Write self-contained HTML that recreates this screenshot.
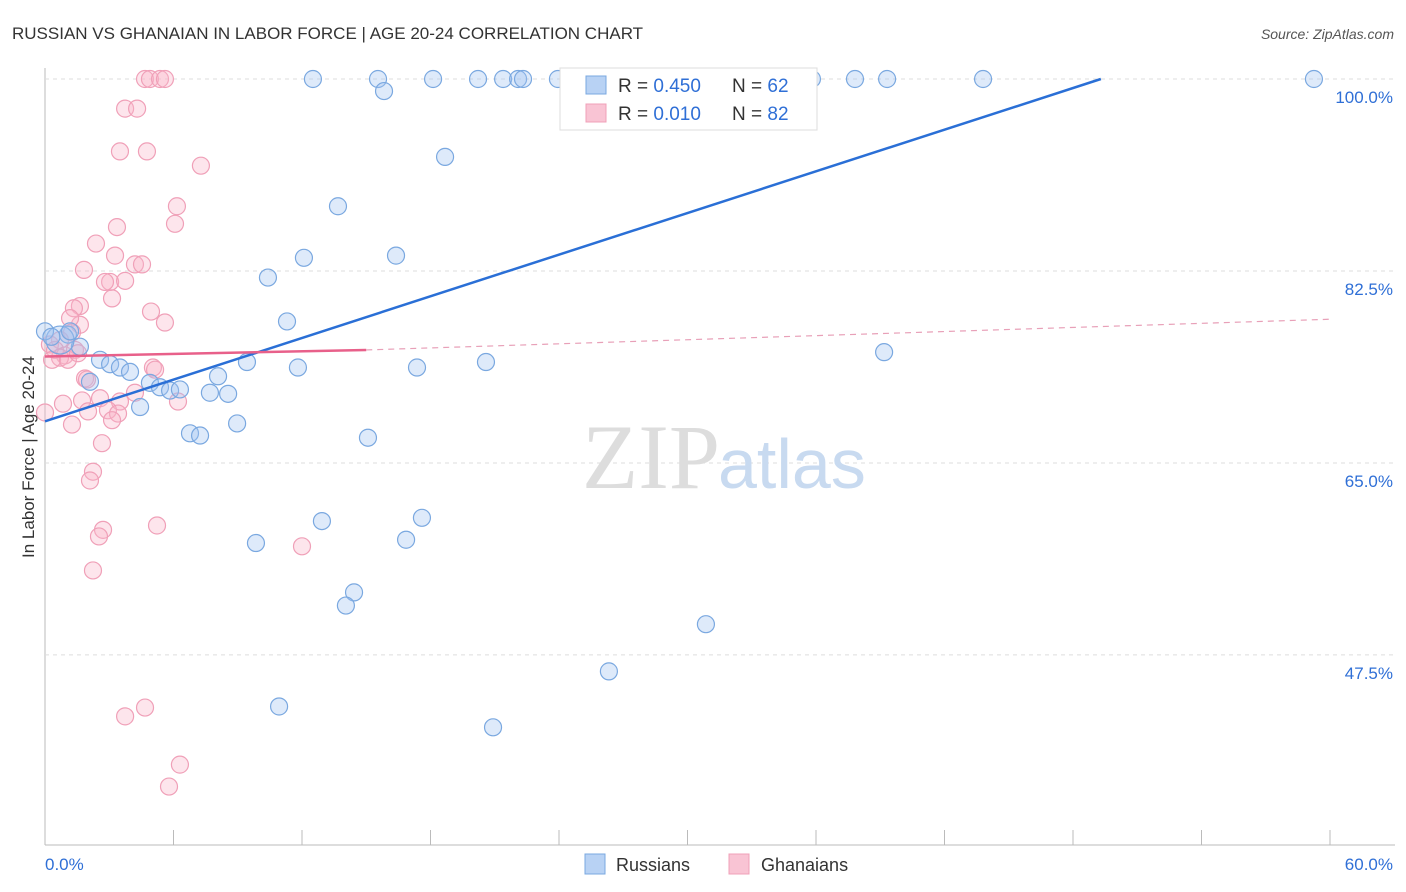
<!DOCTYPE html>
<html><head><meta charset="utf-8"><style>
body{margin:0;background:#fff;font-family:"Liberation Sans",sans-serif}
svg{display:block}
</style></head><body>
<svg id="c" width="1406" height="892" xmlns="http://www.w3.org/2000/svg">
<text x="12" y="39" font-size="17" fill="#333">RUSSIAN VS GHANAIAN IN LABOR FORCE | AGE 20-24 CORRELATION CHART</text>
<text x="1394" y="39" font-size="14" fill="#555" font-style="italic" text-anchor="end">Source: ZipAtlas.com</text>
<text x="34" y="457" font-size="17" fill="#333" text-anchor="middle" transform="rotate(-90 34 457)">In Labor Force | Age 20-24</text>
<g id="grid"></g>
<text x="720" y="488" font-size="92" fill="#ddd" font-family="Liberation Serif" text-anchor="end">ZIP</text>
<text x="718" y="488" font-size="70" fill="#c8daf0">atlas</text>
<g id="pts"></g>
<g id="lines"></g>
<g>
<rect x="560" y="68" width="257" height="62" fill="#fff" stroke="#ddd"/>
<rect x="586" y="76" width="20" height="18" fill="#b8d2f4" stroke="#7aa8e0"/>
<rect x="586" y="104" width="20" height="18" fill="#f9c4d4" stroke="#f0a0b8"/>
<text x="618" y="92" font-size="19" fill="#333">R = <tspan fill="#2f6fd6">0.450</tspan></text>
<text x="732" y="92" font-size="19" fill="#333">N = <tspan fill="#2f6fd6">62</tspan></text>
<text x="618" y="120" font-size="19" fill="#333">R = <tspan fill="#2f6fd6">0.010</tspan></text>
<text x="732" y="120" font-size="19" fill="#333">N = <tspan fill="#2f6fd6">82</tspan></text>
</g>
<g>
<rect x="585" y="854" width="20" height="20" fill="#b8d2f4" stroke="#7aa8e0"/>
<text x="616" y="871" font-size="18" fill="#333">Russians</text>
<rect x="729" y="854" width="20" height="20" fill="#f9c4d4" stroke="#f0a0b8"/>
<text x="761" y="871" font-size="18" fill="#333">Ghanaians</text>
</g>
</svg>
<script>
const yTicks=[100,82.5,65,47.5];
const yTickLabels=["100.0%","82.5%","65.0%","47.5%"];
const xTicks=[0,6,12,18,24,30,36,42,48,54,60];
const xTickLabels=["0.0%","60.0%"];
const ruX=[12.51,15.55,18.12,20.22,21.39,22.09,22.32,23.95,24.65,29.09,31.42,35.81,37.82,39.32,43.80,59.25,15.83,18.68,13.68,16.39,12.09,10.41,11.30,1.07,1.63,2.57,3.04,3.50,3.97,2.10,4.90,5.37,5.84,6.30,4.44,7.70,8.55,8.08,9.43,11.81,17.37,20.59,39.18,6.77,7.24,8.97,15.08,12.93,17.60,9.85,16.86,14.43,14.05,30.86,26.33,10.93,20.92,0.7,0,1.17,0.3];
const ruY=[100,100,100,100,100,100,100,100,100,100,100,100,100,100,100,100,98.9,92.9,88.4,83.9,83.7,81.9,77.9,76.7,75.6,74.4,74.0,73.7,73.3,72.4,72.3,71.9,71.6,71.7,70.1,71.4,71.3,72.9,74.2,73.7,73.7,74.2,75.1,67.7,67.5,68.6,67.3,59.7,60.0,57.7,58.0,53.2,52.0,50.3,46.0,42.8,40.9,76.2,77.0,77.0,76.5];
const ghX=[0,4.67,4.90,5.37,5.60,3.74,4.30,3.50,4.76,7.28,6.16,6.07,3.36,2.38,3.27,1.82,4.20,4.53,3.04,3.74,2.80,3.13,1.63,1.35,4.95,5.60,1.63,1.17,1.26,0.70,0.23,0.47,0.93,1.40,0.70,0.33,1.07,1.54,5.04,5.14,1.87,1.96,4.20,2.57,0.84,1.73,3.50,6.21,2.01,2.94,3.41,3.13,1.26,2.66,2.24,2.10,2.71,5.23,2.52,12.00,2.24,4.67,3.74,6.30,5.79];
const ghY=[69.6,100,100,100,100,97.3,97.3,93.4,93.4,92.1,88.4,86.8,86.5,85.0,83.9,82.6,83.1,83.1,81.5,81.6,81.5,80.0,79.3,79.1,78.8,77.8,77.6,78.2,76.9,76.2,75.8,75.3,74.8,75.3,74.6,74.4,74.4,75.0,73.7,73.5,72.7,72.6,71.4,70.9,70.4,70.7,70.6,70.6,69.7,69.8,69.5,68.9,68.5,66.8,64.2,63.4,58.9,59.3,58.3,57.4,55.2,42.7,41.9,37.5,35.5];
const ruLineX=[0,49.3];const ruLineY=[68.8,100];
const ghSolidX=[0,15];const ghSolidY=[74.7,75.3];
const ghDashX=[15,60];const ghDashY=[75.3,78.1];
const NS="http://www.w3.org/2000/svg";
const sx=v=>45+v/60*1285;
const sy=v=>79+(100-v)*10.97;
function mk(t,a,p){const e=document.createElementNS(NS,t);for(const k in a)e.setAttribute(k,a[k]);p.appendChild(e);return e;}
const grid=document.getElementById('grid');
let ax=mk('line',{x1:45,y1:68,x2:45,y2:845,stroke:'#bbb'},grid);

let bx=mk('line',{x1:45,y1:845,x2:1395,y2:845,stroke:'#bbb'},grid);

yTicks.forEach((v,i)=>{
 let g=mk('line',{x1:45,y1:sy(v),x2:1395,y2:sy(v),stroke:'#ddd','stroke-dasharray':'4 4'},grid);
 
 let t=mk('text',{x:1393,y:sy(v)+24,'font-size':17,fill:'#2f6fd6','text-anchor':'end'},grid);t.textContent=yTickLabels[i];
 
});
xTicks.forEach(v=>{let l=mk('line',{x1:sx(v),y1:830,x2:sx(v),y2:845,stroke:'#bbb'},grid);
 });
let t0=mk('text',{x:45,y:870,'font-size':17,fill:'#2f6fd6'},grid);t0.textContent=xTickLabels[0];

let t1=mk('text',{x:1393,y:870,'font-size':17,fill:'#2f6fd6','text-anchor':'end'},grid);t1.textContent=xTickLabels[1];

const pts=document.getElementById('pts');
ghX.forEach((x,i)=>{let c=mk('circle',{cx:sx(x),cy:sy(ghY[i]),r:8.5,fill:'rgba(248,180,200,0.35)',stroke:'#f0a0b8','stroke-width':1.2},pts);
 });
ruX.forEach((x,i)=>{let c=mk('circle',{cx:sx(x),cy:sy(ruY[i]),r:i===57?14:8.5,fill:'rgba(160,196,240,0.35)',stroke:'#7aa8e0','stroke-width':1.2},pts);
 });
const ln=document.getElementById('lines');
let l1=mk('line',{x1:sx(ruLineX[0]),y1:sy(ruLineY[0]),x2:sx(ruLineX[1]),y2:sy(ruLineY[1]),stroke:'#2a6fd6','stroke-width':2.5},ln);

let l2=mk('line',{x1:sx(ghSolidX[0]),y1:sy(ghSolidY[0]),x2:sx(ghSolidX[1]),y2:sy(ghSolidY[1]),stroke:'#e8608a','stroke-width':2.5},ln);

let l3=mk('line',{x1:sx(ghDashX[0]),y1:sy(ghDashY[0]),x2:sx(ghDashX[1]),y2:sy(ghDashY[1]),stroke:'#e8a0b8','stroke-width':1.2,'stroke-dasharray':'6 5'},ln);

</script>
</body></html>
